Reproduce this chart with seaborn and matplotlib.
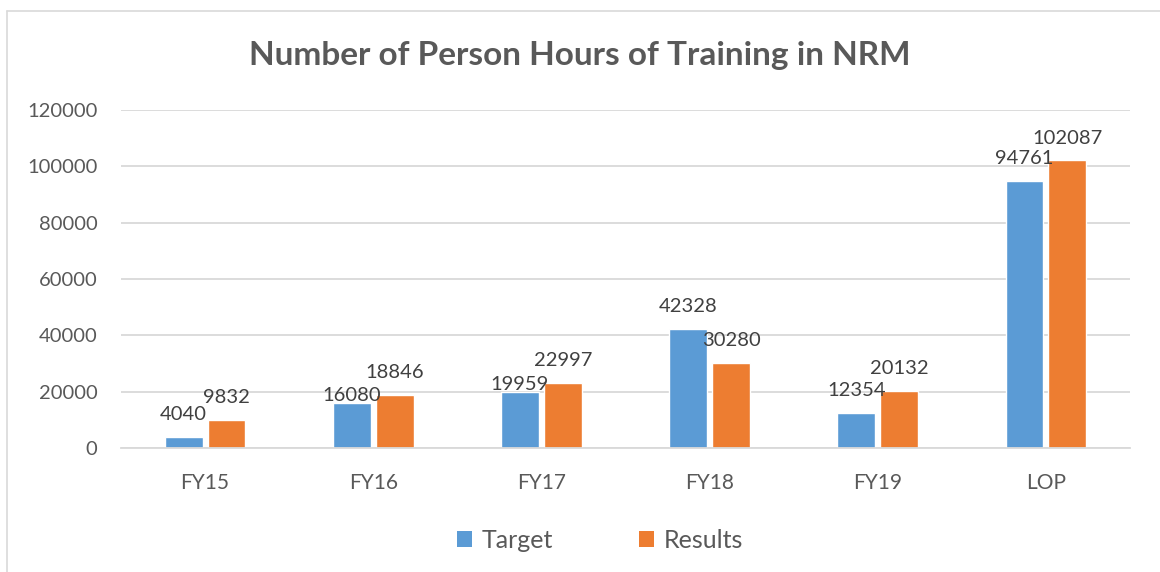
import matplotlib
matplotlib.use("Agg")
import matplotlib.pyplot as plt
import seaborn as sns
import pandas as pd
from matplotlib.lines import Line2D
from matplotlib.patches import Patch

categories = ["FY15", "FY16", "FY17", "FY18", "FY19", "LOP"]
target = [4040, 16080, 19959, 42328, 12354, 94761]
results = [9832, 18846, 22997, 30280, 20132, 102087]
series_names = ["Target", "Results"]
colors = ["#5B9BD5", "#ED7D31"]
yticks = [0, 20000, 40000, 60000, 80000, 100000, 120000]

df = pd.DataFrame({
    "cat": categories * 2,
    "val": target + results,
    "series": [series_names[0]] * len(categories) + [series_names[1]] * len(categories),
})

sns.set_theme(style="white")
plt.rcParams["font.family"] = ["Lato", "DejaVu Sans"]

fig = plt.figure(figsize=(11.6, 5.72), dpi=100)
ax = fig.add_axes([121/1160, 1-448/572, (1130-121)/1160, (448-110)/572])

sns.barplot(data=df, x="cat", y="val", hue="series", palette=colors,
            width=0.51, gap=0.12, ax=ax, legend=False, saturation=1)

ax.set_ylim(0, 120000)
ax.set_xlim(-0.5, len(categories) - 0.5)
ax.set_yticks(yticks)
ax.set_yticklabels([str(t) for t in yticks])
ax.yaxis.grid(True, color="#D9D9D9", linewidth=1.3)
ax.set_axisbelow(True)
for s in ["top", "right", "left"]:
    ax.spines[s].set_visible(False)
ax.spines["bottom"].set_color("#D9D9D9")
ax.spines["bottom"].set_linewidth(1.3)
ax.tick_params(axis="y", length=0, pad=17, labelsize=14.5, labelcolor="#595959")
ax.tick_params(axis="x", length=0, pad=18, labelsize=15, labelcolor="#595959")
ax.set_xlabel("")
ax.set_ylabel("")

# In the reference, two Target labels (FY16, FY17) sit lower, just above their bars
lowered = {(0, "FY16"), (0, "FY17")}
for si, cont in enumerate(ax.containers):
    vals = [int(v) for v in cont.datavalues]
    normal = ["" if (si, c) in lowered else str(v) for c, v in zip(categories, vals)]
    low = [str(v) if (si, c) in lowered else "" for c, v in zip(categories, vals)]
    ax.bar_label(cont, labels=normal, padding=10, fontsize=14.5, color="#404040")
    ax.bar_label(cont, labels=low, padding=-1, fontsize=14.5, color="#404040")

fig.text(0.5, 1-56/572, "Number of Person Hours of Training in NRM",
         ha="center", va="center", fontsize=24, fontweight="bold", color="#595959")

handles = [Patch(facecolor=c, edgecolor="none", label=n) for c, n in zip(colors, series_names)]
fig.legend(handles=handles, loc="center", bbox_to_anchor=(600/1160, 1-540/572),
           ncol=2, frameon=False, fontsize=18, labelcolor="#595959",
           handlelength=0.6, handleheight=0.6, handletextpad=0.4, columnspacing=3.4)

fig.add_artist(Line2D([7/1160, 7/1160], [0, 1-11/572], transform=fig.transFigure,
                      color="#D9D9D9", linewidth=1.2))
fig.add_artist(Line2D([7/1160, 1.0], [1-11/572, 1-11/572], transform=fig.transFigure,
                      color="#D9D9D9", linewidth=1.2))

fig.savefig("out.png", dpi=100, facecolor="white")
